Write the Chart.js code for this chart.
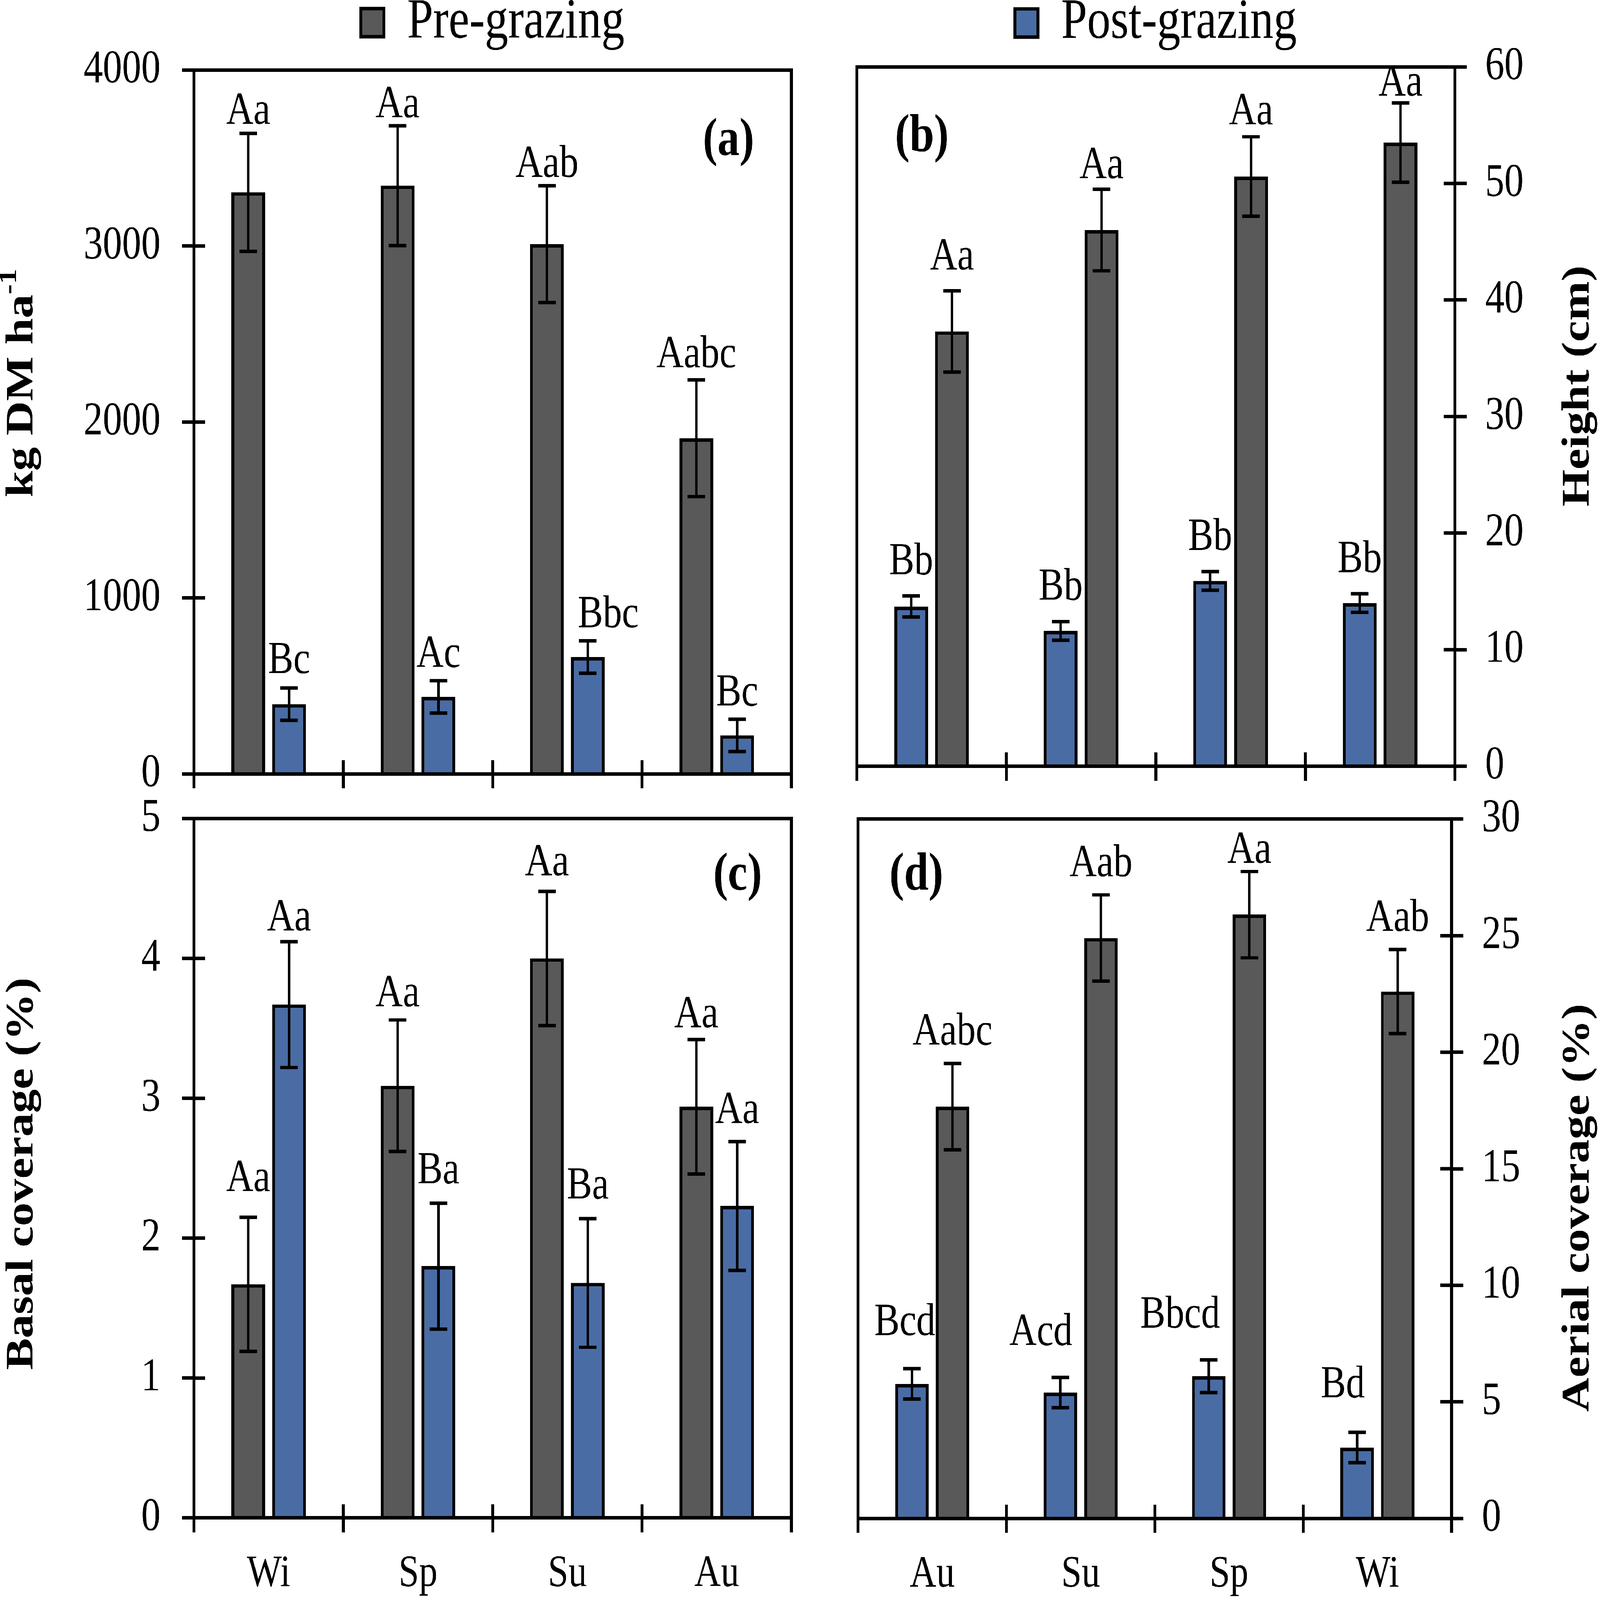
<!DOCTYPE html>
<html><head><meta charset="utf-8">
<script src="https://cdn.jsdelivr.net/npm/chart.js@4.4.1/dist/chart.umd.min.js"></script>
<style>
html,body{margin:0;padding:0;background:#fff;overflow:hidden;}
#page{position:relative;width:7828px;height:6413px;overflow:hidden;background:#fff;transform-origin:0 0;}
canvas{position:absolute;}
</style></head><body><div id="page">
<canvas id="cA"></canvas><canvas id="cB"></canvas><canvas id="cC"></canvas><canvas id="cD"></canvas>
</div>
<script>
// ---------------- DATA ----------------
const seriesNames = ['Pre-grazing', 'Post-grazing'];
const seasonsLeft = ['Wi', 'Sp', 'Su', 'Au'];
const seasonsRight = ['Au', 'Su', 'Sp', 'Wi'];

// (a) herbage mass, kg DM ha-1 (Wi, Sp, Su, Au)
const massPre = [3305, 3343, 3011, 1908];
const massPreErr = [336, 340, 332, 332];
const massPost = [396, 438, 664, 219];
const massPostErr = [92, 92, 92, 92];
const massPreLetters = ['Aa', 'Aa', 'Aab', 'Aabc'];
const massPostLetters = ['Bc', 'Ac', 'Bbc', 'Bc'];

// (b) sward height, cm (Au, Su, Sp, Wi)
const heightPost = [13.7, 11.6, 15.9, 14.0];
const heightPostErr = [0.9, 0.8, 0.8, 0.8];
const heightPre = [37.3, 46.0, 50.6, 53.5];
const heightPreErr = [3.5, 3.5, 3.4, 3.4];
const heightPostLetters = ['Bb', 'Bb', 'Bb', 'Bb'];
const heightPreLetters = ['Aa', 'Aa', 'Aa', 'Aa'];

// (c) basal coverage, % (Wi, Sp, Su, Au)
const basalPre = [1.67, 3.09, 4.00, 2.94];
const basalPreErr = [0.48, 0.47, 0.48, 0.48];
const basalPost = [3.67, 1.80, 1.68, 2.23];
const basalPostErr = [0.45, 0.45, 0.46, 0.46];
const basalPreLetters = ['Aa', 'Aa', 'Aa', 'Aa'];
const basalPostLetters = ['Aa', 'Ba', 'Ba', 'Aa'];

// (d) aerial coverage, % (Au, Su, Sp, Wi)
const aerialPost = [5.77, 5.4, 6.1, 3.04];
const aerialPostErr = [0.65, 0.65, 0.7, 0.65];
const aerialPre = [17.67, 24.9, 25.9, 22.6];
const aerialPreErr = [1.85, 1.85, 1.85, 1.8];
const aerialPostLetters = ['Bcd', 'Acd', 'Bbcd', 'Bd'];
const aerialPreLetters = ['Aabc', 'Aab', 'Aa', 'Aab'];

// tick labels
const ticksMass = ['0', '1000', '2000', '3000', '4000'];
const ticksHeight = ['0', '10', '20', '30', '40', '50', '60'];
const ticksBasal = ['0', '1', '2', '3', '4', '5'];
const ticksAerial = ['0', '5', '10', '15', '20', '25', '30'];

// ---------------- STYLE / LAYOUT ----------------
const PAGE_W = 7828, PAGE_H = 6413;
const PRE_COLOR = '#595959';
const POST_COLOR = '#4A6CA5';
const FONT = '"Liberation Serif", "Times New Roman", serif';
const LINE = 14;
const TICK_OUT = 58;
const TICK_IN = 55;
const TICK_FONT = 188;
const XLABEL_FONT = 180;
const LETTER_FONT = 185;
const TITLE_FONT = 190;
const TAG_FONT = 215;
const LEGEND_FONT = 228;
const LEGEND_PAD = 10;
const LEGEND_BOX = 113;
const CAP_HALF = 43, STEM_W = 12;

const panels = [
  { id: 'cA', canvas: {x: 0, y: 0, w: 4040, h: 3190}, area: {L: 949, T: 281, R: 3872, B: 3102},
    labels: seasonsLeft, yPos: 'left', yMax: 4000, yStep: 1000, yTicks: ticksMass, showX: false, yw: 880, xh: 80,
    series: [
      {s: 0, data: massPre, err: massPreErr, letters: massPreLetters, lift: [38, 35, 35, 50], shift: [0, 0, 0, 0]},
      {s: 1, data: massPost, err: massPostErr, letters: massPostLetters, lift: [60, 55, 55, 55], shift: [0, 0, 100, 0]}],
    legend: 'Pre-grazing', legendY: 91,
    title: {text: 'kg DM ha', sup: '-1', x: 110, y: 1535}, tag: {text: '(a)', x: 3564, y: 621} },
  { id: 'cB', canvas: {x: 4040, y: 0, w: 3788, h: 3190}, area: {L: 4192, T: 268, R: 7118, B: 3071},
    labels: seasonsRight, yPos: 'right', yMax: 60, yStep: 10, yTicks: ticksHeight, showX: false, yw: 650, xh: 80,
    series: [
      {s: 1, data: heightPost, err: heightPostErr, letters: heightPostLetters, lift: [87, 88, 87, 87], shift: [0, 0, 0, 0]},
      {s: 0, data: heightPre, err: heightPreErr, letters: heightPreLetters, lift: [85, 45, 50, 30], shift: [0, 0, 0, 0]}],
    legend: 'Post-grazing', legendY: 92,
    title: {text: 'Height (cm)', x: 7723, y: 1547}, tag: {text: '(b)', x: 4510, y: 606} },
  { id: 'cC', canvas: {x: 0, y: 3190, w: 4040, h: 3223}, area: {L: 949, T: 3281, R: 3872, B: 6084},
    labels: seasonsLeft, yPos: 'left', yMax: 5, yStep: 1, yTicks: ticksBasal, showX: true, yw: 880, xh: 325,
    series: [
      {s: 0, data: basalPre, err: basalPreErr, letters: basalPreLetters, lift: [105, 55, 65, 50], shift: [0, 0, 0, 0]},
      {s: 1, data: basalPost, err: basalPostErr, letters: basalPostLetters, lift: [45, 80, 80, 75], shift: [0, 0, 0, 0]}],
    legend: null,
    title: {text: 'Basal coverage (%)', x: 110, y: 4704}, tag: {text: '(c)', x: 3609, y: 3566} },
  { id: 'cD', canvas: {x: 4040, y: 3190, w: 3788, h: 3223}, area: {L: 4198, T: 3283, R: 7102, B: 6086},
    labels: seasonsRight, yPos: 'right', yMax: 30, yStep: 5, yTicks: ticksAerial, showX: true, yw: 650, xh: 325,
    series: [
      {s: 1, data: aerialPost, err: aerialPostErr, letters: aerialPostLetters, lift: [135, 130, 130, 140], shift: [-35, -95, -140, -70]},
      {s: 0, data: aerialPre, err: aerialPreErr, letters: aerialPreLetters, lift: [75, 75, 35, 75], shift: [0, 0, 0, 0]}],
    legend: null,
    title: {text: 'Aerial coverage (%)', x: 7723, y: 4841}, tag: {text: '(d)', x: 4483, y: 3566} }
];

function decorPlugin(P) {
  return {
    id: 'decor_' + P.id,
    afterDatasetsDraw(chart) {
      const ctx = chart.ctx, y = chart.scales.y;
      P.series.forEach((ser, di) => {
        const meta = chart.getDatasetMeta(di);
        meta.data.forEach((bar, j) => {
          const v = ser.data[j], e = ser.err[j];
          const pt = y.getPixelForValue(v + e), pb = y.getPixelForValue(v - e);
          ctx.save();
          ctx.strokeStyle = '#000';
          ctx.lineCap = 'butt';
          ctx.lineWidth = STEM_W;
          ctx.beginPath(); ctx.moveTo(bar.x, pt); ctx.lineTo(bar.x, pb); ctx.stroke();
          ctx.lineWidth = LINE;
          ctx.beginPath();
          ctx.moveTo(bar.x - CAP_HALF, pt); ctx.lineTo(bar.x + CAP_HALF, pt);
          ctx.moveTo(bar.x - CAP_HALF, pb); ctx.lineTo(bar.x + CAP_HALF, pb);
          ctx.stroke();
          ctx.fillStyle = '#000';
          ctx.font = LETTER_FONT + 'px ' + FONT;
          ctx.textAlign = 'center';
          ctx.textBaseline = 'alphabetic';
          ctx.fillText(ser.letters[j], bar.x + ser.shift[j], pt - ser.lift[j]);
          ctx.restore();
        });
      });
    },
    afterDraw(chart) {
      const ctx = chart.ctx, a = chart.chartArea;
      const x = chart.scales.x, y = chart.scales.y;
      const ox = P.canvas.x, oy = P.canvas.y;
      ctx.save();
      ctx.strokeStyle = '#000';
      ctx.lineWidth = LINE;
      ctx.strokeRect(a.left, a.top, a.right - a.left, a.bottom - a.top);
      ctx.beginPath();
      y.ticks.forEach(t => {
        const py = y.getPixelForValue(t.value);
        if (P.yPos === 'left') { ctx.moveTo(a.left, py); ctx.lineTo(a.left + TICK_IN, py); }
        else { ctx.moveTo(a.right, py); ctx.lineTo(a.right - TICK_IN, py); }
      });
      for (let k = 0; k <= P.labels.length; k++) {
        const px = x.getPixelForValue(k - 0.5);
        ctx.moveTo(px, a.bottom); ctx.lineTo(px, a.bottom - TICK_IN);
      }
      ctx.stroke();
      ctx.fillStyle = '#000';
      ctx.translate(P.title.x - ox, P.title.y - oy);
      ctx.rotate(-Math.PI / 2);
      ctx.textBaseline = 'middle';
      ctx.textAlign = 'left';
      const fMain = 'bold ' + TITLE_FONT + 'px ' + FONT;
      const fSup = 'bold ' + Math.round(TITLE_FONT * 0.65) + 'px ' + FONT;
      ctx.font = fMain;
      const w1 = ctx.measureText(P.title.text).width;
      let w2 = 0;
      if (P.title.sup) { ctx.font = fSup; w2 = ctx.measureText(P.title.sup).width; }
      const start = -(w1 + w2) / 2;
      ctx.font = fMain;
      ctx.fillText(P.title.text, start, 0);
      if (P.title.sup) { ctx.font = fSup; ctx.fillText(P.title.sup, start + w1, -TITLE_FONT * 0.33); }
      ctx.restore();
      ctx.save();
      ctx.fillStyle = '#000';
      ctx.font = 'bold ' + TAG_FONT + 'px ' + FONT;
      ctx.textAlign = 'center';
      ctx.textBaseline = 'alphabetic';
      ctx.fillText(P.tag.text, P.tag.x - ox, P.tag.y - oy);
      ctx.restore();
    }
  };
}

// the page is laid out on a 7828 x 6413 grid and scaled to fill the actual window
function fitPage() {
  const page = document.getElementById('page');
  const sx = window.innerWidth / PAGE_W, sy = window.innerHeight / PAGE_H;
  page.style.transform = 'scale(' + sx + ',' + sy + ')';
}

function build() {
  Chart.defaults.font.family = FONT;
  Chart.defaults.color = '#000';
  panels.forEach(P => {
    const cv = document.getElementById(P.id);
    cv.width = P.canvas.w; cv.height = P.canvas.h;
    cv.style.left = P.canvas.x + 'px'; cv.style.top = P.canvas.y + 'px';
    cv.style.width = P.canvas.w + 'px'; cv.style.height = P.canvas.h + 'px';
    const tgt = {left: P.area.L - P.canvas.x, top: P.area.T - P.canvas.y,
                 right: P.area.R - P.canvas.x, bottom: P.area.B - P.canvas.y};
    const W = P.canvas.w, H = P.canvas.h;
    const st = {pad: {}, gap: 0};
    st.pad.left = P.yPos === 'left' ? tgt.left - P.yw : tgt.left;
    st.pad.right = P.yPos === 'left' ? W - tgt.right : W - tgt.right - P.yw;
    st.pad.bottom = H - tgt.bottom - P.xh;
    if (P.legend) {
      st.pad.top = (P.legendY - P.canvas.y) - LEGEND_PAD - LEGEND_FONT / 2;
      st.gap = Math.max(0, tgt.top - (st.pad.top + LEGEND_FONT + LEGEND_PAD + 10) - 1);
    } else {
      st.pad.top = tgt.top;
    }
    const fixAxis = (vertical, size) => (s) => {
      if (vertical) s.width = size; else s.height = size;
      s.paddingTop = 0; s.paddingBottom = 0; s.paddingLeft = 0; s.paddingRight = 0;
    };
    const gridOpts = {display: true, drawOnChartArea: false, drawTicks: true, tickLength: TICK_OUT,
                      tickWidth: LINE, tickColor: '#000', color: '#000', lineWidth: LINE};
    const chart = new Chart(cv, {
      type: 'bar',
      data: {
        labels: P.labels,
        datasets: P.series.map(ser => ({
          label: seriesNames[ser.s],
          data: ser.data,
          backgroundColor: ser.s === 0 ? PRE_COLOR : POST_COLOR,
          borderColor: '#000',
          borderWidth: LINE,
          borderSkipped: 'start',
          categoryPercentage: 0.547,
          barPercentage: 0.825
        }))
      },
      options: {
        responsive: false, maintainAspectRatio: false, animation: false, devicePixelRatio: 1, events: [],
        layout: {padding: Object.assign({}, st.pad)},
        plugins: {
          tooltip: {enabled: false},
          legend: {
            display: !!P.legend, position: 'top', fullSize: false, align: 'center',
            labels: {
              font: {size: LEGEND_FONT, family: FONT}, color: '#000',
              boxWidth: LEGEND_BOX, boxHeight: LEGEND_BOX, padding: LEGEND_PAD,
              filter: (item) => item.text === P.legend
            }
          },
          title: {display: !!P.legend, text: '', position: 'top', weight: 100, fullSize: false,
                  padding: {top: st.gap, bottom: 0}, font: {size: 1, lineHeight: 1}}
        },
        scales: {
          x: {
            type: 'category', offset: true,
            grid: Object.assign({offset: true}, gridOpts),
            border: {display: true, color: '#000', width: LINE, z: 1},
            ticks: {display: P.showX, font: {size: XLABEL_FONT, family: FONT}, color: '#000', padding: 60,
                    maxRotation: 0, autoSkip: false},
            afterFit: fixAxis(false, P.xh)
          },
          y: {
            type: 'linear', position: P.yPos, min: 0, max: P.yMax,
            grid: Object.assign({offset: false}, gridOpts),
            border: {display: true, color: '#000', width: LINE, z: 1},
            ticks: {stepSize: P.yStep, font: {size: TICK_FONT, family: FONT}, color: '#000',
                    padding: P.yPos === 'left' ? 106 : 90,
                    callback: (v, i) => P.yTicks[i]},
            afterFit: fixAxis(true, P.yw)
          }
        }
      },
      plugins: [decorPlugin(P)]
    });
    for (let k = 0; k < 4; k++) {
      const a = chart.chartArea;
      const pad = st.pad;
      pad.left += tgt.left - a.left;
      pad.right += a.right - tgt.right;
      pad.bottom += a.bottom - tgt.bottom;
      const dTop = tgt.top - a.top;
      if (P.legend) {
        const lg = chart.legend;
        const boxC = lg.top + LEGEND_PAD + LEGEND_FONT / 2;
        const dLeg = (P.legendY - P.canvas.y) - boxC;
        pad.top += dLeg;
        st.gap = Math.max(0, st.gap + dTop - dLeg);
        chart.options.plugins.title.padding = {top: st.gap, bottom: 0};
      } else {
        pad.top += dTop;
      }
      chart.options.layout.padding = Object.assign({}, pad);
      chart.update('none');
    }
  });
}

fitPage();
window.addEventListener('resize', fitPage);
Promise.all([
  document.fonts.load(TICK_FONT + 'px "Liberation Serif"'),
  document.fonts.load('bold ' + TITLE_FONT + 'px "Liberation Serif"')
]).catch(() => {}).then(build);
</script>
</body></html>
